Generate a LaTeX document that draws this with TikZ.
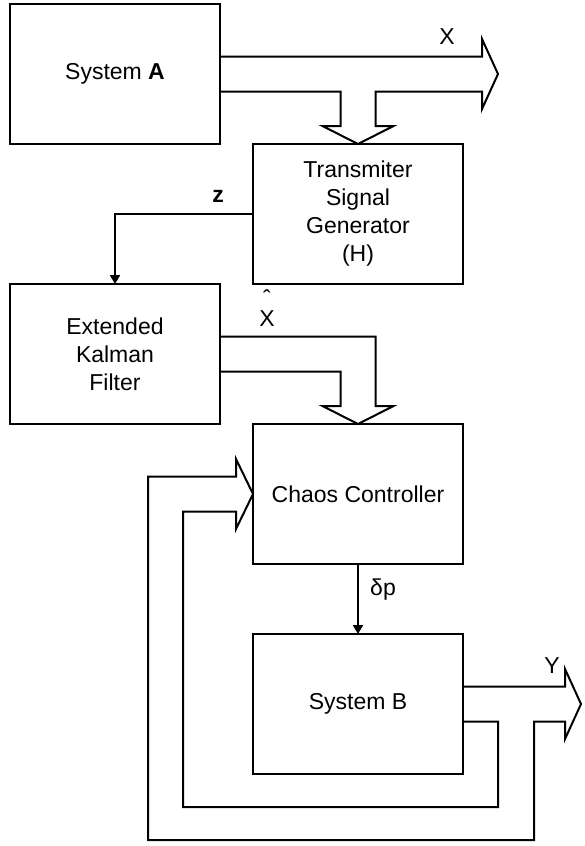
\documentclass[tikz,border=0pt]{standalone}
\usepackage{fontspec}
\setmainfont{Liberation Sans}
\usetikzlibrary{arrows.meta,positioning,calc}
\newcommand{\fina}{\draw[-{Triangle[length=4.5pt,width=5pt]},line width=1pt]}
\newcommand{\larga}{\draw[line width=1pt,line join=miter]}

\begin{document}
\begin{tikzpicture}[x=0.5pt,y=-0.5pt,
      bloco/.style={draw,line width=1pt,minimum width=105pt,minimum height=70pt,inner sep=0pt,outer sep=0pt,align=center},
      font=\fontsize{11.5}{14}\selectfont]
      \useasboundingbox (0,0) rectangle (584,846);

      % blocos
      \node(sA)  [bloco] at (115,74)                       {System \textbf{A}};
      \node(tsg) [bloco,below right=0pt and 16.5pt of sA]  {Transmiter\\Signal\\Generator\\(H)};
      \node(ekf) [bloco,below left=0pt and 16.5pt of tsg]  {Extended\\Kalman\\Filter};
      \node(cc)  [bloco,below right=0pt and 16.5pt of ekf] {Chaos Controller};
      \node(sB)  [bloco,below=35pt of cc]                  {System B};

      % rótulos
      \node(lX)  at (447,37)  {X};
      \node(lz)  at (218,196) {\textbf{z}};
      \node(lXh) at (267,308) [align=center,inner sep=0pt] {\symbol{"02C6}\\[-4pt]X};
      \node(ldp) at (383,590) {δp};
      \node(lY)  at (552,666) {Y};

      % setas finas
      \fina(tsg.west) -| (ekf.north);
      \fina(cc.south) -- (sB.north);

      % seta larga X
      \coordinate(xt)  at ($(sA.east)+(278,0)$);
      \coordinate(xhi) at ($(sA.east)+(0,-17.5)$);
      \coordinate(xlo) at ($(sA.east)+(0,17.5)$);
      \coordinate(xr)  at ($(tsg.north)+(17.5,-18)$);
      \coordinate(xl)  at ($(tsg.north)+(-17.5,-18)$);
      \larga(xhi) -- ($(xt)+(-16,-17.5)$) -- ++(0,-17.5) -- (xt) -- ($(xt)+(-16,35)$) -- ++(0,-17.5)
         -- (xr |- xlo) -- (xr) -- ++(18,0) -- (tsg.north) -- ($(xl)+(-18,0)$) -- (xl) -- (xl |- xlo) -- (xlo);

      % seta larga X chapéu
      \coordinate(hhi) at ($(ekf.east)+(0,-17.5)$);
      \coordinate(hlo) at ($(ekf.east)+(0,17.5)$);
      \coordinate(hr)  at ($(cc.north)+(17.5,-18)$);
      \coordinate(hl)  at ($(cc.north)+(-17.5,-18)$);
      \larga(hhi) -- (hr |- hhi) -- (hr) -- ++(18,0) -- (cc.north) -- ($(hl)+(-18,0)$) -- (hl) -- (hl |- hlo) -- (hlo);

      % seta larga Y e realimentação
      \coordinate(yt)  at ($(sB.east)+(118,0)$);
      \coordinate(yhi) at ($(sB.east)+(0,-17.5)$);
      \coordinate(ylo) at ($(sB.east)+(0,17.5)$);
      \coordinate(ri)  at ($(sB.south east)+(35,33)$);
      \coordinate(ro)  at ($(sB.south east)+(71,66)$);
      \coordinate(li)  at ($(cc.west)+(-70,17.5)$);
      \coordinate(lo)  at ($(cc.west)+(-105,-17.5)$);
      \larga(ylo) -- (ri |- ylo) -- (ri) -- (li |- ri) -- (li) -- ($(cc.west)+(-17,17.5)$) -- ++(0,17.5)
         -- (cc.west) -- ($(cc.west)+(-17,-35)$) -- ++(0,17.5) -- (lo) -- (lo |- ro) -- (ro)
         -- (ro |- ylo) -- ($(yt)+(-16,17.5)$) -- ++(0,17.5) -- (yt) -- ($(yt)+(-16,-35)$) -- ++(0,17.5) -- (yhi);
   \end{tikzpicture}
\end{document}
